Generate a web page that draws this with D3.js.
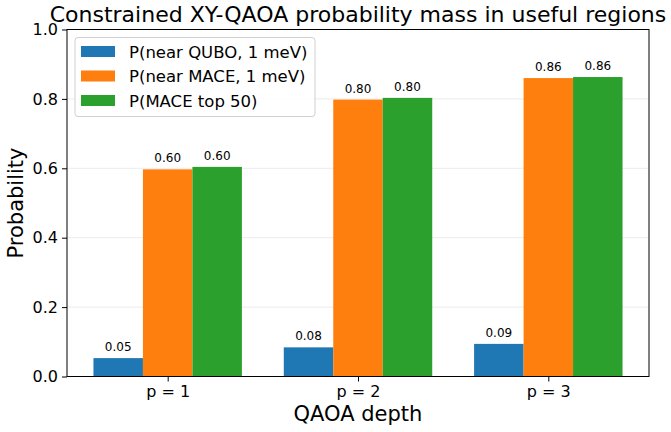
<!DOCTYPE html>
<html>
<head>
<meta charset="utf-8">
<script src="https://cdn.jsdelivr.net/npm/d3@7"></script>
<style>
  body { margin: 0; background: #fff; }
  text { font-family: "DejaVu Sans", sans-serif; }
</style>
</head>
<body>
<div id="chart"></div>
<script>
// data
const depths = ["p = 1", "p = 2", "p = 3"];
const seriesNames = ["P(near QUBO, 1 meV)", "P(near MACE, 1 meV)", "P(MACE top 50)"];
const nearQubo = [0.053, 0.084, 0.094];
const nearMace = [0.597, 0.798, 0.860];
const maceTop50 = [0.604, 0.803, 0.863];
const yTicks = [0.0, 0.2, 0.4, 0.6, 0.8, 1.0];

const series = [nearQubo, nearMace, maceTop50];
const colors = ["#1f77b4", "#ff7f0e", "#2ca02c"];

const W = 671, H = 432;
const margin = { top: 29.5, right: 22, bottom: 55.5, left: 67 };
const width = W - margin.left - margin.right,
      height = H - margin.top - margin.bottom;

const svg = d3.select("#chart").append("svg")
    .attr("width", W).attr("height", H);
const g = svg.append("g")
    .attr("transform", `translate(${margin.left},${margin.top})`);

const bw = 0.26;
const lo = -1.5 * bw, hi = depths.length - 1 + 1.5 * bw;
const pad = (hi - lo) * 0.05;
const x = d3.scaleLinear().domain([lo - pad, hi + pad]).range([0, width]);
const y = d3.scaleLinear().domain([0, 1]).range([height, 0]);

// grid
g.append("g").selectAll("line")
    .data(yTicks)
    .join("line")
    .attr("x1", 0).attr("x2", width)
    .attr("y1", d => y(d)).attr("y2", d => y(d))
    .attr("stroke", "#e6e6e6").attr("stroke-width", 0.8);

// bars
series.forEach((vals, s) => {
    const off = (s - 1) * bw;
    g.append("g").selectAll("rect")
        .data(vals)
        .join("rect")
        .attr("x", (d, i) => x(i + off - bw / 2))
        .attr("y", d => y(d))
        .attr("width", x(bw) - x(0))
        .attr("height", d => height - y(d))
        .attr("fill", colors[s]);
    g.append("g").selectAll("text")
        .data(vals)
        .join("text")
        .attr("x", (d, i) => x(i + off))
        .attr("y", d => y(d) - 7)
        .attr("text-anchor", "middle")
        .style("font-size", "12px")
        .text(d => d.toFixed(2));
});

// axes
const yAxis = g.append("g")
    .call(d3.axisLeft(y).tickValues(yTicks).tickFormat(d3.format(".1f")).tickSize(5).tickPadding(4));
const xAxis = g.append("g")
    .attr("transform", `translate(0,${height})`)
    .call(d3.axisBottom(x).tickValues(d3.range(depths.length)).tickFormat(i => depths[i]).tickSize(5).tickPadding(4));
[yAxis, xAxis].forEach(a => {
    a.select(".domain").remove();
    a.selectAll("text").style("font-size", "16px").attr("fill", "#000");
    a.selectAll("line").attr("stroke", "#000").attr("stroke-width", 1);
});

// frame
g.append("rect")
    .attr("width", width).attr("height", height)
    .attr("fill", "none").attr("stroke", "#000").attr("stroke-width", 1);

// labels
svg.append("text")
    .attr("x", margin.left + width / 2).attr("y", 22)
    .attr("text-anchor", "middle")
    .style("font-size", "22px")
    .text("Constrained XY-QAOA probability mass in useful regions");

svg.append("text")
    .attr("x", margin.left + width / 2).attr("y", 421)
    .attr("text-anchor", "middle")
    .style("font-size", "21px")
    .text("QAOA depth");

svg.append("text")
    .attr("transform", `translate(23,${margin.top + height / 2}) rotate(-90)`)
    .attr("text-anchor", "middle")
    .style("font-size", "21px")
    .text("Probability");

// legend
const legend = g.append("g").attr("transform", "translate(8,8)");
legend.append("rect")
    .attr("width", 240).attr("height", 79).attr("rx", 3)
    .attr("fill", "#fff").attr("fill-opacity", 0.8)
    .attr("stroke", "#d0d0d0");
seriesNames.forEach((name, i) => {
    const row = legend.append("g").attr("transform", `translate(6,${14 + i * 24.5})`);
    row.append("rect")
        .attr("y", -5.5).attr("width", 34).attr("height", 11)
        .attr("fill", colors[i]);
    row.append("text")
        .attr("x", 48).attr("y", 6)
        .style("font-size", "16.5px")
        .text(name);
});
</script>
</body>
</html>
